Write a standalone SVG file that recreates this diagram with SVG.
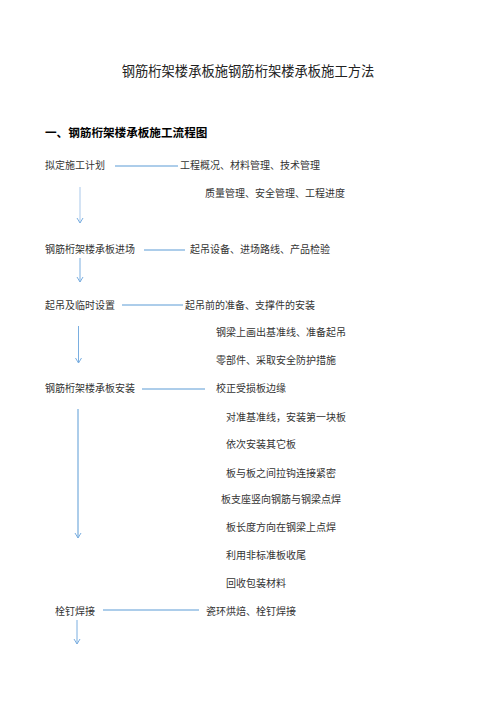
<svg xmlns="http://www.w3.org/2000/svg" width="496" height="702" viewBox="0 0 496 702">
<style>
text{font-family:"Noto Sans CJK SC","Noto Sans CJK JP",sans-serif;fill:#333;font-size:10px}
.title{font-size:13.3px;fill:#222}
.head{font-size:11.6px;font-weight:bold;fill:#000}
.ln{stroke:#5b9bd5;stroke-width:1;fill:none}
.ar{stroke:#7aaee0;stroke-width:1;fill:none}
</style>
<defs>
<marker id="v" markerWidth="8" markerHeight="8" refX="6" refY="4" orient="auto" markerUnits="userSpaceOnUse" viewBox="0 0 8 8">
<path d="M1,1 L6,4 L1,7" stroke="#7aaee0" stroke-width="1" fill="none"/>
</marker>
</defs>
<rect width="496" height="702" fill="#fff"/>
<text class="title" x="248" y="76" text-anchor="middle">钢筋桁架楼承板施钢筋桁架楼承板施工方法</text>
<text class="head" x="45" y="137">一、钢筋桁架楼承板施工流程图</text>
<g id="connectors">
<line class="ln" x1="115" y1="166" x2="178" y2="166"/>
<line class="ar" x1="80" y1="187" x2="80" y2="223" marker-end="url(#v)" style="stroke:#a9c8ea"/>
<line class="ln" x1="144" y1="250" x2="185" y2="250"/>
<line class="ar" x1="80" y1="258" x2="80" y2="282" marker-end="url(#v)"/>
<line class="ln" x1="122" y1="305" x2="183" y2="305"/>
<line class="ar" x1="78.5" y1="326" x2="78.5" y2="363" marker-end="url(#v)"/>
<line class="ln" x1="142" y1="389" x2="205" y2="389"/>
<line class="ar" x1="78" y1="409" x2="78" y2="538" marker-end="url(#v)" style="stroke:#5b9bd5"/>
<line class="ln" x1="103" y1="610" x2="199" y2="610"/>
<line class="ar" x1="77" y1="620" x2="77" y2="644" marker-end="url(#v)"/>
</g>
<g id="n1"><text x="45" y="169">拟定施工计划</text></g>
<g id="n1a"><text x="180" y="169">工程概况、材料管理、技术管理</text><text x="205" y="197">质量管理、安全管理、工程进度</text></g>
<g id="n2"><text x="45" y="253">钢筋桁架楼承板进场</text></g>
<g id="n2a"><text x="190" y="253">起吊设备、进场路线、产品检验</text></g>
<g id="n3"><text x="45" y="309">起吊及临时设置</text></g>
<g id="n3a"><text x="185" y="309">起吊前的准备、支撑件的安装</text><text x="216" y="336">钢梁上画出基准线、准备起吊</text><text x="216" y="364">零部件、采取安全防护措施</text></g>
<g id="n4"><text x="45" y="392">钢筋桁架楼承板安装</text></g>
<g id="n4a"><text x="216" y="392">校正受损板边缘</text>
<text x="226" y="421">对准基准线，安装第一块板</text>
<text x="226" y="448">依次安装其它板</text>
<text x="226" y="477">板与板之间拉钩连接紧密</text>
<text x="221" y="503">板支座竖向钢筋与钢梁点焊</text>
<text x="226" y="531">板长度方向在钢梁上点焊</text>
<text x="226" y="559">利用非标准板收尾</text>
<text x="226" y="587">回收包装材料</text></g>
<g id="n5"><text x="55" y="615">栓钉焊接</text></g>
<g id="n5a"><text x="206" y="615">瓷环烘焙、栓钉焊接</text></g>
</svg>
